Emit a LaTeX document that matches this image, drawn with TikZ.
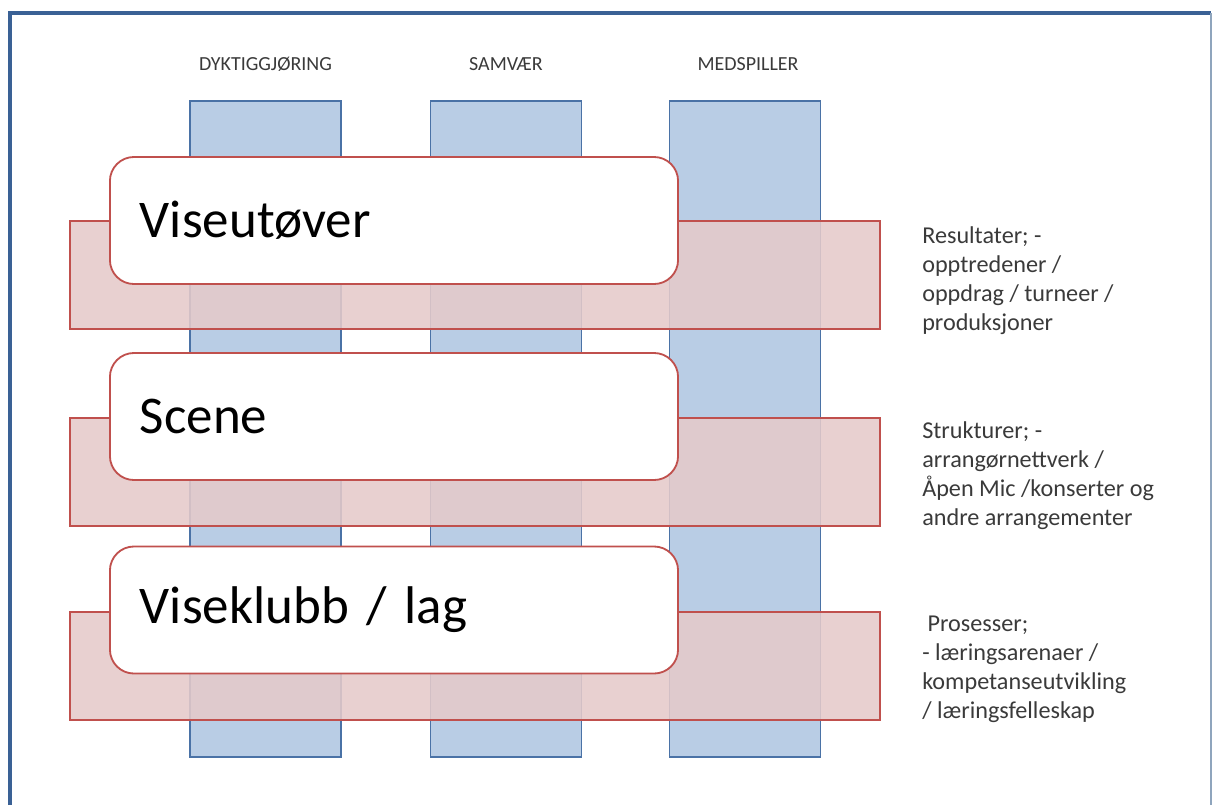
\documentclass[tikz,border=0pt]{standalone}
\usepackage{fontspec}
\setmainfont{Carlito}
\definecolor{colblue}{HTML}{B9CDE5}
\definecolor{colline}{HTML}{4A72A6}
\definecolor{bandred}{HTML}{E5CACA}
\definecolor{redline}{HTML}{C0504D}
\definecolor{framblue}{HTML}{3A6195}
\definecolor{framgray}{HTML}{8FA5BD}
\definecolor{txtgray}{HTML}{3A3A3A}
\usetikzlibrary{positioning}

\begin{document}
\begin{tikzpicture}[x=0.025cm, y=-0.025cm,
        column/.style={draw=colline, fill=colblue, line width=1.3pt,
                      minimum width=3.775cm, minimum height=16.4cm, inner sep=0pt},
        band/.style={draw=redline, fill=bandred, fill opacity=0.88, line width=1.3pt,
                      minimum width=20.25cm, minimum height=2.7cm, inner sep=0pt},
        level/.style={draw=redline, fill=white, line width=1.3pt, rounded corners=0.6cm,
                      minimum width=14.2cm, minimum height=3.175cm,
                      text width=12.7cm, inner xsep=0.75cm, align=left,
                      font=\fontsize{37.7}{45}\selectfont},
        colhead/.style={text=txtgray, font=\fontsize{14.2}{17}\selectfont, inner sep=0pt},
        note/.style={text=txtgray, align=left, anchor=west, inner sep=0pt,
                      font=\fontsize{17.2}{20.6}\selectfont}
      ]
        \useasboundingbox (0,0) rectangle (1213,805);

        % frame
        \draw[framblue, line width=2.2pt] (10,805) -- (10,13) -- (1211,13);
        \draw[framgray, line width=1.6pt] (1211,13) -- (1211,805);

        % columns
        \node[column] (dykt) at (265.5,429) {};
        \node[column] (samv) at (506,429) {};
        \node[column] (meds) at (745,429) {};

        \node[colhead] (hdykt) at (265.5,64) {DYKTIGGJØRING};
        \node[colhead] (hsamv) at (506,64) {SAMVÆR};
        \node[colhead] (hmeds) at (748,64) {MEDSPILLER};

        % bands
        \node[band] (res) at (475,275) {};
        \node[band] (str) at (475,472) {};
        \node[band] (pro) at (475,666) {};

        % levels
        \node[level] (vis) at (394,220.5) {Viseutøver};
        \node[level] (sce) at (394,416.5) {Scene};
        \node[level] (klb) at (394,610) {Viseklubb / lag};

        % notes
        \node[note] (nres) at (922,280.5) {Resultater; -\\opptredener /\\oppdrag / turneer /\\produksjoner};
        \node[note] (nstr) at (922,476) {Strukturer; -\\arrangørnettverk /\\Åpen Mic /konserter og\\andre arrangementer};
        \node[note] (npro) at (922,669) {\hspace*{0.22em}Prosesser;\\- læringsarenaer /\\kompetanseutvikling\\/ læringsfelleskap};
      \end{tikzpicture}
\end{document}
